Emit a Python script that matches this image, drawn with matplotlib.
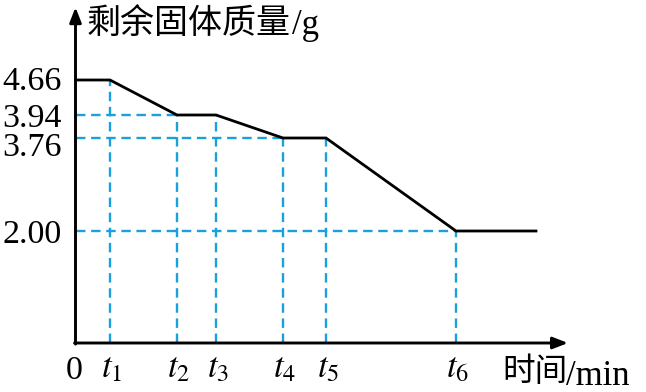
import numpy as np
import matplotlib
matplotlib.use("Agg")
import matplotlib.pyplot as plt
from matplotlib.transforms import Affine2D, blended_transform_factory, offset_copy

# data (t positions are symbolic, placed as in the picture)
t_names = ["$t_1$", "$t_2$", "$t_3$", "$t_4$", "$t_5$", "$t_6$"]
t_vals = [3.45, 10.15, 14.05, 20.75, 25.05, 38.05]
t_end = 46.05
mass_levels = [4.66, 3.94, 3.76, 2.00]
mass_labels = ["4.66", "3.94", "3.76", "2.00"]

line_x = [0, t_vals[0], t_vals[1], t_vals[2], t_vals[3], t_vals[4], t_vals[5], t_end]
line_y = [4.66, 4.66, 3.94, 3.94, 3.76, 3.76, 2.00, 2.00]

# vertical guides: (t, top value), horizontal guides: (value, right end t)
v_guides = [(t_vals[0], 4.66), (t_vals[1], 3.94), (t_vals[2], 3.94),
            (t_vals[3], 3.76), (t_vals[4], 3.76), (t_vals[5], 2.00)]
h_guides = [(3.94, t_vals[1]), (3.76, t_vals[3]), (2.00, t_vals[5])]

# the drawing is schematic: y is not to scale, so use a piecewise scale
Y_ANCHORS = [-2.0, 0.0, 2.00, 3.76, 3.94, 4.66, 7.0]
P_ANCHORS = [-112.0, 0.0, 112.0, 205.0, 228.0, 263.0, 394.0]


def fwd(v):
    return np.interp(v, Y_ANCHORS, P_ANCHORS)


def inv(p):
    return np.interp(p, P_ANCHORS, Y_ANCHORS)


BLUE = "#1aa0dc"
SERIF = ["Liberation Serif", "DejaVu Serif"]
CJK = ["Noto Sans CJK SC", "DejaVu Sans"]
plt.rcParams["mathtext.fontset"] = "stix"

W, H = 646, 392
fig = plt.figure(figsize=(W / 100, H / 100), dpi=100)
ax = fig.add_axes([0, 0, 1, 1])
ax.set_yscale("function", functions=(fwd, inv))
ax.set_xlim(-7.55, (W - 75.5) / 10)
ax.set_ylim(inv(-(H - 343)), inv(343))
ax.axis("off")

# pixel transform, origin at top-left
px = Affine2D().scale(1 / W, -1 / H).translate(0, 1) + fig.transFigure

for t, top in v_guides:
    ax.plot([t, t], [0, top], color=BLUE, lw=1.7, dashes=(4, 2.4))
for v, right in h_guides:
    ax.plot([0, right], [v, v], color=BLUE, lw=1.7, dashes=(4, 2.4))

ax.plot(line_x, line_y, color="black", lw=2, solid_joinstyle="miter")

# axes with arrows
arrow = dict(arrowstyle="-|>,head_length=0.9,head_width=0.35", color="black",
             lw=2.1, shrinkA=0, shrinkB=0)
ax.annotate("", xy=(49.25, 0), xytext=(-0.1, 0), arrowprops=arrow)
ax.annotate("", xy=(0, 5.96), xytext=(0, -0.02), arrowprops=arrow)

# y tick labels
ylab_tr = blended_transform_factory(px, ax.transData)
ylab_dy = [-2, 0, 6, 0]
for v, s, dy in zip(mass_levels, mass_labels, ylab_dy):
    tr = offset_copy(ylab_tr, fig=fig, x=0, y=-dy * 0.72, units="points")
    ax.text(62, v, s, transform=tr, ha="right", va="center_baseline",
            fontsize=24.5, family=SERIF)

# x tick labels
xlab_tr = blended_transform_factory(ax.transData, px)
ax.text(74, 379, "0", transform=px, ha="center", va="baseline",
        fontsize=24.5, family=SERIF)
for t, s in zip(t_vals, t_names):
    ax.text(t + 0.2, 377, s, transform=xlab_tr, ha="center", va="baseline",
            fontsize=25)

# axis titles
ax.text(87, 23, "剩余固体质量", transform=px, ha="left", va="center",
        fontsize=24.5, family=CJK)
ax.text(292, 34, "/g", transform=px, ha="left", va="baseline",
        fontsize=25, family=SERIF)
ax.text(502, 372, "时间", transform=px, ha="left", va="center",
        fontsize=23.5, family=CJK)
ax.text(566, 385, "/min", transform=px, ha="left", va="baseline",
        fontsize=25, family=SERIF)

fig.savefig("out.png", dpi=100)
